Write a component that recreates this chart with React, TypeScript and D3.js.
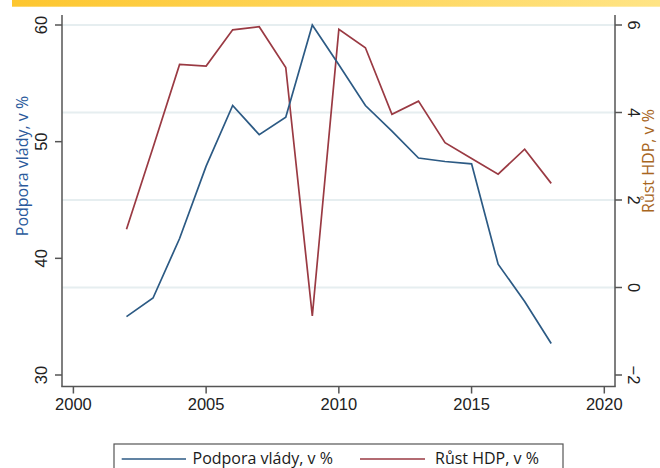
import React from "react";
import * as d3 from "d3";

const years = [2002, 2003, 2004, 2005, 2006, 2007, 2008, 2009, 2010, 2011, 2012, 2013, 2014, 2015, 2016, 2017, 2018];
const support = [35.0, 36.6, 41.7, 47.9, 53.1, 50.6, 52.1, 60.0, 56.6, 53.1, 50.9, 48.6, 48.3, 48.1, 39.5, 36.3, 32.7];
const gdp = [1.33, 3.2, 5.1, 5.06, 5.89, 5.96, 5.03, -0.65, 5.9, 5.48, 3.96, 4.26, 3.31, 2.95, 2.59, 3.16, 2.38];
const xTicks = [2000, 2005, 2010, 2015, 2020];
const leftTicks = [30, 40, 50, 60];
const rightTicks = [-2, 0, 2, 4, 6];
const gridTicks = [0, 2, 4, 6];
const leftTitle = "Podpora vlády, v %";
const rightTitle = "Růst HDP, v %";

const W = 660;
const H = 468;
const plotL = 62;
const plotR = 615;
const plotT = 15;
const plotB = 386.5;

const BLUE = "#2c5a84";
const RED = "#9a3a43";
const AXIS = "#555";
const TICKFONT = "'Liberation Sans', Arial, sans-serif";
const LABFONT = "'Open Sans', sans-serif";

export default function App() {
  const x = d3.scaleLinear().domain([2000, 2020]).range([73.4, 604.3]);
  const yL = d3.scaleLinear().domain([30, 60]).range([375, 25]);
  const yR = d3.scaleLinear().domain([-2, 6]).range([375, 25]);

  const lineL = d3
    .line<number>()
    .x((_, i) => x(years[i]))
    .y((d) => yL(d));
  const lineR = d3
    .line<number>()
    .x((_, i) => x(years[i]))
    .y((d) => yR(d));

  return (
    <svg
      width={W}
      height={H}
      style={{ position: "absolute", left: 0, top: 0, background: "#fff" }}
    >
      <defs>
        <linearGradient id="topbar" x1="0" x2="1" y1="0" y2="0">
          <stop offset="0" stopColor="#fdc62f" />
          <stop offset="1" stopColor="#ffe485" />
        </linearGradient>
      </defs>
      <rect x={12} y={0} width={W - 12} height={6.7} fill="url(#topbar)" />

      {gridTicks.map((t) => (
        <line
          key={"g" + t}
          x1={plotL}
          x2={plotR}
          y1={yR(t)}
          y2={yR(t)}
          stroke="#e6eef0"
          strokeWidth={2}
        />
      ))}

      <path d={lineR(gdp) || ""} fill="none" stroke={RED} strokeWidth={1.7} strokeLinejoin="miter" />
      <path d={lineL(support) || ""} fill="none" stroke={BLUE} strokeWidth={1.7} strokeLinejoin="miter" />

      {/* axes */}
      <line x1={plotL} x2={plotL} y1={plotT} y2={plotB} stroke={AXIS} strokeWidth={1.5} />
      <line x1={plotR} x2={plotR} y1={plotT} y2={plotB} stroke={AXIS} strokeWidth={1.5} />
      <line x1={plotL - 0.75} x2={plotR + 0.75} y1={plotB} y2={plotB} stroke={AXIS} strokeWidth={1.5} />

      {leftTicks.map((t) => (
        <g key={"l" + t}>
          <line x1={plotL - 7} x2={plotL} y1={yL(t)} y2={yL(t)} stroke={AXIS} strokeWidth={1.5} />
          <text
            transform={`translate(47,${yL(t)}) rotate(-90)`}
            textAnchor="middle"
            fontFamily={TICKFONT}
            fontSize={16.5}
            fill="#222"
          >
            {t}
          </text>
        </g>
      ))}

      {rightTicks.map((t) => (
        <g key={"r" + t}>
          <line x1={plotR} x2={plotR + 7} y1={yR(t)} y2={yR(t)} stroke={AXIS} strokeWidth={1.5} />
          <text
            transform={`translate(627.5,${yR(t)}) rotate(90)`}
            textAnchor="middle"
            fontFamily={TICKFONT}
            fontSize={16.5}
            fill="#222"
          >
            {t < 0 ? "\u2212" + Math.abs(t) : t}
          </text>
        </g>
      ))}

      {xTicks.map((t) => (
        <g key={"x" + t}>
          <line x1={x(t)} x2={x(t)} y1={plotB} y2={plotB + 7} stroke={AXIS} strokeWidth={1.5} />
          <text
            x={x(t)}
            y={410}
            textAnchor="middle"
            fontFamily={TICKFONT}
            fontSize={16.5}
            fill="#222"
          >
            {t}
          </text>
        </g>
      ))}

      <text
        transform="translate(28,166) rotate(-90)"
        textAnchor="middle"
        fontFamily={LABFONT}
        fontSize={16}
        fill="#2a5a9c"
      >
        {leftTitle}
      </text>
      <text
        transform="translate(654,161) rotate(-90)"
        textAnchor="middle"
        fontFamily={LABFONT}
        fontSize={16}
        fill="#a8661e"
      >
        {rightTitle}
      </text>

      {/* legend */}
      <rect x={114} y={444} width={449} height={40} fill="#fff" stroke="#555" strokeWidth={1.2} />
      <line x1={121.7} x2={186} y1={459} y2={459} stroke={BLUE} strokeWidth={1.7} />
      <text x={192.5} y={463.5} fontFamily={LABFONT} fontSize={16} fill="#1a1a1a">
        {leftTitle}
      </text>
      <line x1={360} x2={425} y1={459} y2={459} stroke={RED} strokeWidth={1.7} />
      <text x={435} y={463.5} fontFamily={LABFONT} fontSize={16} fill="#1a1a1a">
        {rightTitle}
      </text>
    </svg>
  );
}
